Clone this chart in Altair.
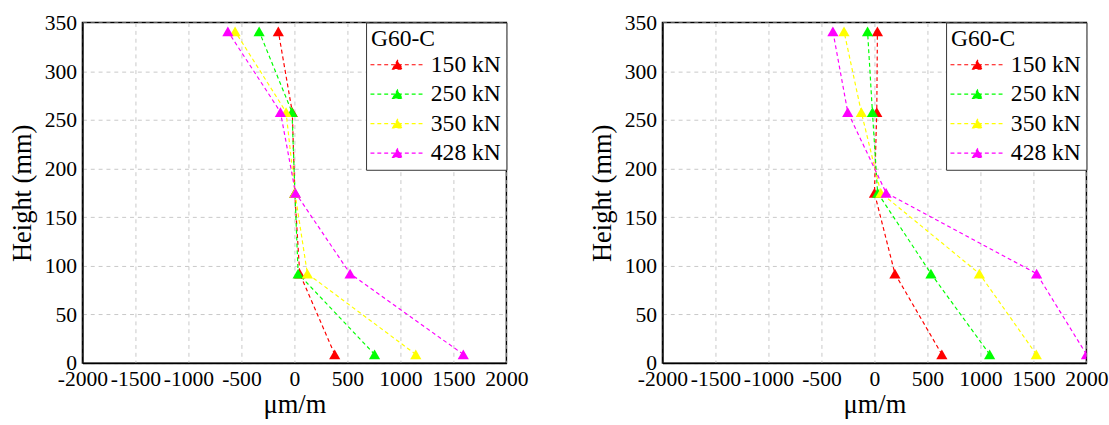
import altair as alt
import pandas as pd

heights = [9, 92, 175, 258, 341]
loads = ["150 kN", "250 kN", "350 kN", "428 kN"]
colors = ["#ff0000", "#00ff00", "#ffff00", "#ff00ff"]

left_150 = [380, 50, 3, -20, -152]
left_250 = [756, 35, 5, -23, -333]
left_350 = [1145, 122, 5, -79, -560]
left_428 = [1593, 525, 10, -132, -628]

right_150 = [636, 193, 0, 22, 28]
right_250 = [1087, 533, 30, -19, -65]
right_350 = [1527, 990, 60, -124, -287]
right_428 = [2000, 1530, 110, -252, -392]

x_ticks = [-2000, -1500, -1000, -500, 0, 500, 1000, 1500, 2000]
y_ticks = [0, 50, 100, 150, 200, 250, 300, 350]

FONT = "Liberation Serif"
SYMBOL = "M-5.5,0L5.5,0M-1,0.87L0,-0.87L1,0.87Z"


def frame(series):
    rows = []
    for load, vals in zip(loads, series):
        for h, v in zip(heights, vals):
            rows.append({"load": load, "strain": v, "h": h})
    return pd.DataFrame(rows)


def legend_full():
    return alt.Legend(
        title="G60-C", orient="top-right", offset=0, padding=5,
        strokeColor="#333333", fillColor="white", cornerRadius=0,
        symbolType=SYMBOL, symbolSize=100, symbolStrokeWidth=1.2,
        symbolDash=[4, 3], symbolOffset=15, labelOffset=22,
        labelFont=FONT, labelFontSize=24, labelColor="black",
        titleFont=FONT, titleFontSize=24, titleFontWeight="normal",
        titleColor="black", rowPadding=6, titlePadding=2,
    )


def panel(series):
    df = frame(series)
    xenc = alt.X("strain:Q", title="μm/m",
                 scale=alt.Scale(domain=[-2000, 2000], nice=False),
                 axis=alt.Axis(values=x_ticks, labelOverlap=False, labelFlush=False,
                               labelFont=FONT, titleFont=FONT,
                               labelExpr="'' + datum.value"))
    yenc = alt.Y("h:Q", title="Height (mm)",
                 scale=alt.Scale(domain=[0, 350], nice=False),
                 axis=alt.Axis(values=y_ticks, labelOverlap=False, labelFlush=False,
                               labelFont=FONT, titleFont=FONT))
    return alt.Chart(df).mark_line(
        strokeDash=[4, 3], strokeWidth=1.2, clip=True,
        point=alt.OverlayMarkDef(shape="triangle-up", filled=True, size=130,
                                 opacity=1, strokeDash=[1, 0], clip=True),
    ).encode(
        x=xenc, y=yenc,
        color=alt.Color("load:N", scale=alt.Scale(domain=loads, range=colors),
                        legend=legend_full()),
        order=alt.Order("h:Q"),
    ).properties(width=432, height=347)


left = panel([left_150, left_250, left_350, left_428])
right = panel([right_150, right_250, right_350, right_428])

chart = alt.hconcat(left, right, spacing=60).resolve_scale(
    color="independent"
).properties(
    padding={"left": 8, "top": 7, "right": 0, "bottom": 0},
    background="white",
).configure_view(
    stroke="black", strokeWidth=1.5
).configure_axis(
    grid=True, gridDash=[4, 4], gridColor="#c8c8c8", gridWidth=1,
    domain=True, domainColor="black", domainWidth=1.5, ticks=False,
    labelFont=FONT, labelFontSize=22, labelColor="black", labelPadding=6,
    titleFont=FONT, titleFontSize=27, titleFontWeight="normal", titleColor="black",
).configure_axisY(titlePadding=8).configure_axisX(titlePadding=2)

chart.save("out.html", embed_options={"renderer": "svg", "actions": False})
